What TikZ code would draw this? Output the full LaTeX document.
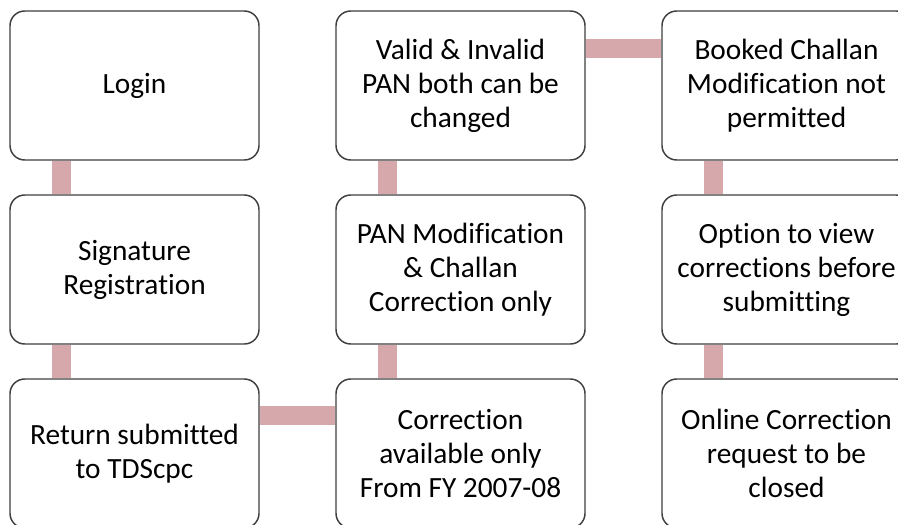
\documentclass[tikz,border=0pt]{standalone}
\usepackage{fontspec}
\setmainfont[Ligatures=NoCommon]{Carlito}
\usetikzlibrary{backgrounds,calc,positioning}
\definecolor{boxline}{HTML}{3F3F3F}
\definecolor{linkfill}{HTML}{D6A8AB}
\definecolor{ink}{HTML}{000000}
\tikzset{
  % ---- steps ------------------------------------------------------
  stepbox/.style  = {rectangle, rounded corners=11pt, draw=boxline,
                     line width=1.1pt, fill=white, inner sep=0pt,
                     minimum width=186.75pt, minimum height=111.75pt,
                     align=center, text=ink,
                     font=\fontsize{22}{25.5}\selectfont},
  % ---- bars between steps -----------------------------------------
  link/.style     = {draw=linkfill, line width=14pt},
}
\begin{document}
\begin{tikzpicture}[x=0.75pt,y=-0.75pt]
  \useasboundingbox (0,0) rectangle (898,524);
  \node[stepbox] (s1) at (134.5,85.5)  {Login};
  \node[stepbox] (s2) at (134.5,269.5) {Signature\\Registration};
  \node[stepbox] (s3) at (134.5,453.5) {Return submitted\\to TDScpc};
  \node[stepbox] (s4) at (460.5,453.5) {Correction\\available only\\From FY 2007-08};
  \node[stepbox] (s5) at (460.5,269.5) {PAN Modification\\\& Challan\\Correction only};
  \node[stepbox] (s6) at (460.5,85.5)  {Valid \& Invalid\\PAN both can be\\changed};
  \node[stepbox] (s7) at (786.5,85.5)  {Booked Challan\\Modification not\\permitted};
  \node[stepbox] (s8) at (786.5,269.5) {Option to view\\corrections before\\submitting};
  \node[stepbox] (s9) at (786.5,453.5) {Online Correction\\request to be\\closed};
  \begin{scope}[on background layer]
    \draw[link] ([xshift=39pt]s1.south west) -- ([xshift=39pt]s2.north west);
    \draw[link] ([xshift=39pt]s2.south west) -- ([xshift=39pt]s3.north west);
    \draw[link] ([yshift=-28pt]s3.north east) -- ([yshift=-28pt]s4.north west);
    \draw[link] ([xshift=39pt]s4.north west) -- ([xshift=39pt]s5.south west);
    \draw[link] ([xshift=39pt]s5.north west) -- ([xshift=39pt]s6.south west);
    \draw[link] ([yshift=-28.5pt]s6.north east) -- ([yshift=-28.5pt]s7.north west);
    \draw[link] ([xshift=39pt]s7.south west) -- ([xshift=39pt]s8.north west);
    \draw[link] ([xshift=39pt]s8.south west) -- ([xshift=39pt]s9.north west);
  \end{scope}
\end{tikzpicture}
\end{document}
